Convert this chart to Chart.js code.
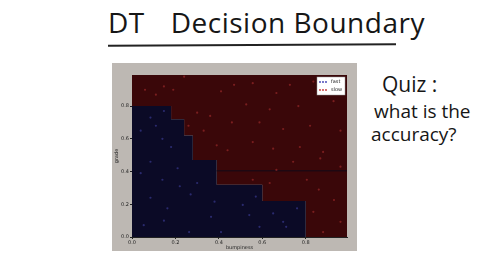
<!DOCTYPE html>
<html lang="en">
<head>
  <meta charset="UTF-8" />
  <title>DT Decision Boundary</title>
  <script src="https://cdn.jsdelivr.net/npm/chart.js"></script>
  <style>
    html, body {
      margin: 0;
      width: 480px;
      height: 270px;
      background: #fff;
      overflow: hidden;
      font-family: "Open Sans", sans-serif;
      color: #161616;
    }
    .title {
      position: absolute;
      left: 108px;
      top: 3px;
      font-size: 28px;
      letter-spacing: 0.5px;
      white-space: nowrap;
    }
    .title .gap { display: inline-block; width: 26px; }
    .underline {
      position: absolute;
      left: 108px;
      top: 44px;
      width: 288px;
      height: 2px;
      background: #222;
      transform: rotate(-0.3deg);
    }
    .quiz {
      position: absolute;
      font-size: 19px;
      white-space: nowrap;
    }
    #boundaryChart {
      position: absolute;
      left: 112px;
      top: 63px;
      background: #bdb8b3;
    }
  </style>
</head>
<body>
<div class="title">DT<span class="gap"></span>Decision Boundary</div>
<div class="underline"></div>
<div class="quiz" style="left:382px; top:70px; font-size:21px;">Quiz :</div>
<div class="quiz" style="left:374px; top:98px;">what is the</div>
<div class="quiz" style="left:371px; top:121px;">accuracy?</div>

<canvas id="boundaryChart" width="245" height="188"></canvas>

<script>
  // axis ticks
  const tickValues = [0.0, 0.2, 0.4, 0.6, 0.8];

  // decision boundary: top of the "fast" region, each level holds from its x to the next x
  const boundaryX = [0.00, 0.18, 0.24, 0.28, 0.39, 0.60, 0.80, 1.00];
  const boundaryY = [0.80, 0.72, 0.62, 0.47, 0.32, 0.22, 0.00, 0.00];

  // thin split strip inside the slow region
  const stripX = [0.39, 1.00];
  const stripY = [0.405, 0.405];

  // test points
  const fastX = [0.147, 0.085, 0.11, 0.14, 0.04, 0.18, 0.04, 0.14, 0.22, 0.30, 0.085, 0.163, 0.27, 0.38, 0.364,
                 0.147, 0.054, 0.263, 0.41, 0.21, 0.085, 0.51, 0.57, 0.696, 0.71, 0.65, 0.76, 0.587, 0.54];
  const fastY = [0.77, 0.73, 0.68, 0.60, 0.65, 0.55, 0.39, 0.35, 0.31, 0.33, 0.24, 0.175, 0.26, 0.216, 0.123,
                 0.10, 0.072, 0.03, 0.03, 0.42, 0.46, 0.196, 0.247, 0.093, 0.062, 0.144, 0.175, 0.062, 0.134];

  const slowX = [0.24, 0.147, 0.11, 0.19, 0.41, 0.30, 0.36, 0.46, 0.33, 0.39, 0.26, 0.44, 0.47, 0.06,
                 0.556, 0.727, 0.835, 0.526, 0.634, 0.766, 0.928, 0.587, 0.696, 0.82, 0.96, 0.556, 0.65, 0.773, 0.88, 0.665,
                 0.556, 0.634, 0.805, 0.86, 0.93, 0.835, 0.96, 0.88, 0.742, 0.867, 0.96, 0.665];
  const slowY = [0.98, 0.92, 0.87, 0.90, 0.89, 0.76, 0.74, 0.70, 0.65, 0.56, 0.68, 0.53, 0.93, 0.90,
                 0.94, 0.93, 0.95, 0.81, 0.78, 0.80, 0.83, 0.70, 0.66, 0.68, 0.65, 0.58, 0.54, 0.55, 0.52, 0.88,
                 0.35, 0.33, 0.35, 0.29, 0.226, 0.154, 0.093, 0.03, 0.46, 0.48, 0.43, 0.41];

  const toPoints = (xs, ys) => xs.map((x, i) => ({ x: x, y: ys[i] }));

  // small legend in the top right corner of the plot
  const cornerLegend = {
    id: "cornerLegend",
    afterDatasetsDraw(chart) {
      const ctx = chart.ctx;
      const area = chart.chartArea;
      const items = chart.data.datasets.filter(d => d.inLegend);
      const w = 28, h = 18;
      const x0 = area.right - w - 2, y0 = area.top + 2;
      ctx.save();
      ctx.fillStyle = "#fff";
      ctx.strokeStyle = "#999";
      ctx.lineWidth = 0.5;
      ctx.fillRect(x0, y0, w, h);
      ctx.strokeRect(x0, y0, w, h);
      ctx.font = "5px 'DejaVu Sans'";
      ctx.textBaseline = "middle";
      items.forEach((d, i) => {
        const cy = y0 + 5 + i * 8;
        ctx.fillStyle = d.legendColor;
        [3, 6, 9].forEach(dx => {
          ctx.beginPath();
          ctx.arc(x0 + dx, cy, 0.9, 0, Math.PI * 2);
          ctx.fill();
        });
        ctx.fillStyle = "#222";
        ctx.fillText(d.label, x0 + 14, cy);
      });
      ctx.restore();
    }
  };

  const axisFont = { family: "DejaVu Sans", size: 5 };

  new Chart(document.getElementById("boundaryChart"), {
    type: "scatter",
    data: {
      datasets: [
        {
          label: "fast",
          data: toPoints(fastX, fastY),
          pointRadius: 1.1,
          pointBorderWidth: 0,
          backgroundColor: "rgba(70,70,170,0.55)",
          legendColor: "#3a3ab0",
          inLegend: true,
          order: 1
        },
        {
          label: "slow",
          data: toPoints(slowX, slowY),
          pointRadius: 1.1,
          pointBorderWidth: 0,
          backgroundColor: "rgba(175,50,50,0.55)",
          legendColor: "#c03030",
          inLegend: true,
          order: 1
        },
        {
          label: "split",
          type: "line",
          data: toPoints(stripX, stripY),
          borderColor: "#1e0812",
          borderWidth: 1.5,
          pointRadius: 0,
          order: 2
        },
        {
          label: "fast region",
          type: "line",
          data: toPoints(boundaryX, boundaryY),
          stepped: "before",
          borderWidth: 0,
          pointRadius: 0,
          fill: "origin",
          backgroundColor: "#0b0a26",
          order: 3
        },
        {
          label: "slow region",
          type: "line",
          data: toPoints(boundaryX, boundaryY),
          stepped: "before",
          borderWidth: 0,
          pointRadius: 0,
          fill: "end",
          backgroundColor: "#3a0709",
          order: 3
        }
      ]
    },
    options: {
      responsive: false,
      animation: false,
      layout: { padding: { top: 12, right: 10, left: 0, bottom: 0 } },
      plugins: {
        legend: { display: false },
        tooltip: { enabled: false }
      },
      scales: {
        x: {
          type: "linear",
          min: 0,
          max: 0.99,
          afterBuildTicks: s => { s.ticks = tickValues.map(v => ({ value: v })); },
          afterFit: s => { s.height = 14; },
          border: { color: "#222", width: 1 },
          grid: { drawOnChartArea: false, tickLength: 2, color: "#222" },
          ticks: { font: axisFont, color: "#222", padding: 1, maxRotation: 0,
                   callback: v => Number(v).toFixed(1) },
          title: { display: true, text: "bumpiness", font: axisFont, color: "#222", padding: 0 }
        },
        y: {
          type: "linear",
          min: 0,
          max: 0.99,
          afterBuildTicks: s => { s.ticks = tickValues.map(v => ({ value: v })); },
          afterFit: s => { s.width = 20; },
          border: { color: "#222", width: 1 },
          grid: { drawOnChartArea: false, tickLength: 2, color: "#222" },
          ticks: { font: axisFont, color: "#222", padding: 1,
                   callback: v => Number(v).toFixed(1) },
          title: { display: true, text: "grade", font: axisFont, color: "#222", padding: 2 }
        }
      }
    },
    plugins: [cornerLegend]
  });
</script>
</body>
</html>
